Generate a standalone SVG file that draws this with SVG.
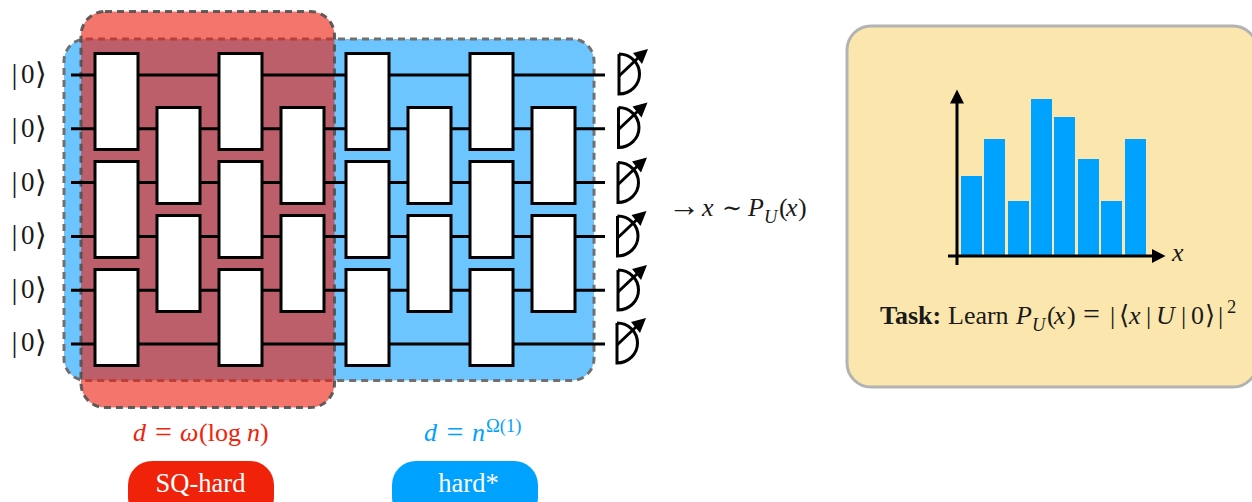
<svg xmlns="http://www.w3.org/2000/svg" width="1252" height="502" viewBox="0 0 1252 502">
<style>
text{font-family:"Liberation Serif","DejaVu Serif",serif;fill:#1a1a1a;font-size:26px}
.i{font-style:italic}
.s{font-size:18.500px}
.e{font-size:30px}
.br{font-size:30px;font-family:"DejaVu Sans",serif}
.w{stroke:#000;stroke-width:3;fill:none}
.g{fill:#fff;stroke:#000;stroke-width:3}
.m{fill:none;stroke:#000;stroke-width:3}
.b{fill:#00a2ff}
.h{fill:#000}
</style>
<defs>
<g id="meter">
<path class="m" d="M0 0V40A20.500 20 0 0 0 0 0"/>
<path class="m" d="M0 22L19 4"/>
<path class="h" d="M29 -5L14 -1L23 10Z"/>
</g>
<rect id="gate" class="g" width="43" height="96"/>
<g id="ket">
<text x="11.500" style="font-size:30px" dy="1">|</text><text x="21" style="font-size:27px">0</text><text x="35" class="br" dy="1">⟩</text>
</g>
</defs>
<g id="region-hard">
<rect x="64" y="39" width="530" height="341.500" rx="22" fill="#6cc5ff" stroke="#707070" stroke-width="3" stroke-dasharray="7 5"/>
</g>
<g id="region-sq-hard">
<rect x="81" y="11.500" width="253.500" height="396" rx="24" fill="#ee2010" fill-opacity="0.62" stroke="#505050" stroke-opacity="0.9" stroke-width="3" stroke-dasharray="7 5"/>
</g>
<g id="connectors">
<path class="w" d="M71 75H605M71 128.800H605M71 182.600H605M71 236.400H605M71 290.200H605M71 344H605"/>
</g>
<g id="gates">
<use href="#gate" x="95" y="53.500"/><use href="#gate" x="95" y="161.500"/><use href="#gate" x="95" y="269.500"/>
<use href="#gate" x="157" y="107.500"/><use href="#gate" x="157" y="215.500"/>
<use href="#gate" x="219" y="53.500"/><use href="#gate" x="219" y="161.500"/><use href="#gate" x="219" y="269.500"/>
<use href="#gate" x="281" y="107.500"/><use href="#gate" x="281" y="215.500"/>
<use href="#gate" x="346" y="53.500"/><use href="#gate" x="346" y="161.500"/><use href="#gate" x="346" y="269.500"/>
<use href="#gate" x="408" y="107.500"/><use href="#gate" x="408" y="215.500"/>
<use href="#gate" x="470" y="53.500"/><use href="#gate" x="470" y="161.500"/><use href="#gate" x="470" y="269.500"/>
<use href="#gate" x="532" y="107.500"/><use href="#gate" x="532" y="215.500"/>
</g>
<g id="meters">
<use href="#meter" x="619" y="54"/><use href="#meter" x="618.500" y="107.500"/><use href="#meter" x="618" y="162.500"/>
<use href="#meter" x="617.500" y="216"/><use href="#meter" x="618" y="270"/><use href="#meter" x="617" y="323"/>
</g>
<g id="inputs">
<use href="#ket" y="83"/><use href="#ket" y="137"/><use href="#ket" y="191"/>
<use href="#ket" y="244"/><use href="#ket" y="298"/><use href="#ket" y="351"/>
</g>
<g id="output-label">
<text y="216"><tspan x="668" style="font-size:32px">→</tspan><tspan class="i" x="702">x</tspan><tspan x="722" style="font-size:24px">∼</tspan><tspan class="i" x="748">P</tspan><tspan class="i s" x="764" dy="7">U</tspan><tspan x="779" dy="-7">(</tspan><tspan class="i" x="786">x</tspan><tspan x="798">)</tspan></text>
</g>
<g id="label-sq">
<text y="441" style="fill:#f0230a"><tspan class="i" x="133">d</tspan><tspan class="e" x="155" dy="1">=</tspan><tspan class="i" x="180" dy="-1">ω</tspan><tspan x="199">(log</tspan><tspan class="i" x="247">n</tspan><tspan x="260">)</tspan></text>
</g>
<g id="label-hard">
<text y="441" style="fill:#00a2ff"><tspan class="i" x="424">d</tspan><tspan class="e" x="446.500" dy="1">=</tspan><tspan class="i" x="472" dy="-1">n</tspan><tspan class="s" x="486" dy="-9">Ω(1)</tspan></text>
</g>
<g id="pill-sq">
<rect x="128" y="461" width="146" height="60" rx="24" fill="#f0230a"/>
<text x="200.500" y="492" text-anchor="middle" style="fill:#fff;font-size:26.500px">SQ-hard</text>
</g>
<g id="pill-hard">
<rect x="392" y="461" width="146" height="60" rx="24" fill="#00a2ff"/>
<text x="468.500" y="492" text-anchor="middle" style="fill:#fff;font-size:26.500px">hard*</text>
</g>
<g id="task-panel">
<rect x="847" y="26" width="410" height="361" rx="24" fill="#fbe7ae" stroke="#b3b3b3" stroke-width="3"/>
<g id="bars">
<rect class="b" x="961" y="176" width="21" height="80"/>
<rect class="b" x="984" y="139" width="21" height="117"/>
<rect class="b" x="1008" y="201" width="21" height="55"/>
<rect class="b" x="1031" y="99" width="21" height="157"/>
<rect class="b" x="1054" y="117" width="21" height="139"/>
<rect class="b" x="1078" y="159" width="21" height="97"/>
<rect class="b" x="1101" y="201" width="21" height="55"/>
<rect class="b" x="1125" y="139" width="21" height="117"/>
</g>
<path class="w" d="M957 265V100M948 256H1155"/>
<path class="h" d="M957 89.500L950 103.500H964ZM1165.500 256L1152 249V263Z"/>
<text class="i" x="1172" y="261">x</text>
<text y="324"><tspan font-weight="bold" x="880">Task:</tspan><tspan x="948">Learn</tspan><tspan class="i" x="1016">P</tspan><tspan class="i s" x="1032" dy="7">U</tspan><tspan x="1047" dy="-7">(</tspan><tspan class="i" x="1054">x</tspan><tspan x="1067">)</tspan><tspan class="e" x="1083">=</tspan><tspan x="1110">|</tspan><tspan x="1119">⟨</tspan><tspan class="i" x="1129">x</tspan><tspan x="1146">|</tspan><tspan class="i" x="1156">U</tspan><tspan x="1181">|</tspan><tspan x="1191">0</tspan><tspan x="1205">⟩</tspan><tspan x="1218">|</tspan><tspan class="s" x="1227" dy="-11">2</tspan></text>
</g>
</svg>
